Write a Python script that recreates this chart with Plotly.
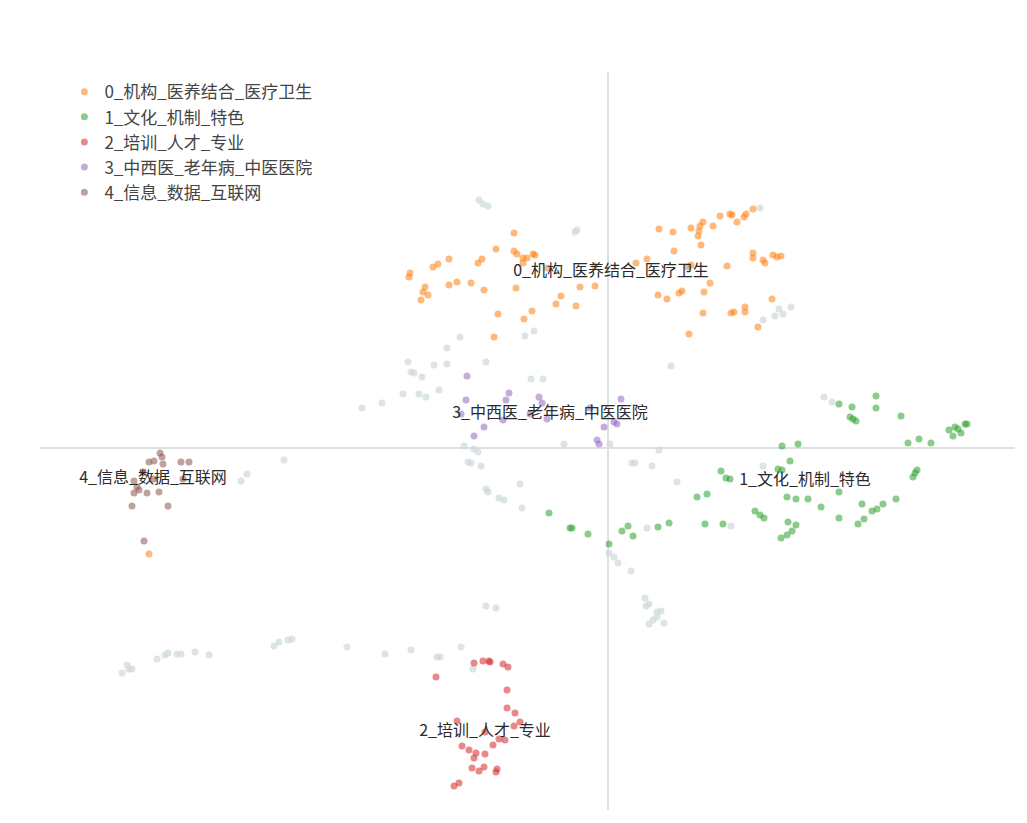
import plotly.graph_objects as go

# Topic names
topic_names = ["0_机构_医养结合_医疗卫生", "1_文化_机制_特色", "2_培训_人才_专业",
               "3_中西医_老年病_中医医院", "4_信息_数据_互联网"]
topic_colors = ["#ff7f0e", "#2ca02c", "#d62728", "#9467bd", "#8c564b"]

# 2D document embeddings (reduced units), per topic
t0_x = [-94, -198, -199, -175, -170, -159, -130, -126, -112, -94, -91, -85, -81, -85, -75, -73,
        -183, -185, -180, -187, -159, -151, -137, -124, -92, -61, -47, -52, -32, -28, -13, -13,
        -110, -84, -76, -114, 28, 39, 51, 65, 66, 83, 92, 95, 91, 90, 93, 105, 112, 122, 124,
        129, 136, 138, 145, 145, 145, 155, 157, 165, 169, 173, 119, 83, 80, 102, 74, 71, 50,
        59, 96, 164, 137, 137, 126, 123, 95, 81, 150, -459]
t0_y = [215, 175, 171, 181, 184, 189, 185, 189, 199, 197, 194, 190, 190, 185, 194, 193,
        161, 156, 153, 148, 163, 166, 165, 158, 160, 180, 152, 144, 142, 161, 162, 182,
        134, 129, 137, 111, 185, 189, 219, 216, 197, 220, 222, 226, 217, 212, 203, 222, 232,
        234, 233, 226, 231, 234, 239, 195, 190, 188, 185, 193, 191, 192, 182, 183, 181, 165,
        157, 155, 153, 149, 156, 149, 141, 136, 136, 135, 135, 114, 121, -106]

t1_x = [231, 268, 244, 268, 242, 245, 248, 293, 341, 347, 350, 353, 345, 357, 359, 300, 311,
        323, 174, 190, 182, 170, 174, 309, 307, 305, 113, 118, 122, 89, 99, 179, 188, 200,
        231, 213, 254, 288, 275, 269, 264, 256, 250, 231, 147, 152, 156, 97, 115, 180, 188,
        184, 179, 173, -59, -38, -36, -20, 1, 14, 20, 25, 50, 61]
t1_y = [44, 52, 41, 40, 31, 29, 27, 32, 18, 21, 19, 15, 12, 24, 24, 5, 9,
        5, 2, 4, -13, -21, -22, -22, -25, -29, -23, -30, -31, -49, -46, -49, -51, -51,
        -44, -59, -56, -51, -56, -61, -63, -71, -76, -70, -63, -67, -70, -76, -76, -74, -77,
        -83, -87, -90, -65, -80, -80, -86, -96, -83, -78, -88, -79, -75]

t2_x = [-134, -125, -119, -118, -105, -100, -172, -101, -101, -93, -151, -88, -94, -109,
        -103, -123, -115, -146, -139, -132, -134, -123, -136, -129, -124, -111, -112, -154, -149]
t2_y = [-215, -213, -213, -214, -216, -219, -229, -242, -260, -265, -273, -274, -278, -291,
        -292, -284, -297, -298, -302, -305, -310, -306, -320, -323, -319, -321, -324, -338, -335]

t3_x = [-141, -142, -99, -102, -69, -66, -18, 13, -147, -124, -134, -105, -78, -61, -4, 6, 9, -11, -9]
t3_y = [72, 48, 55, 48, 51, 45, 40, 49, 34, 21, 12, 28, 34, 29, 21, 26, 24, 8, 4]

t4_x = [-448, -446, -454, -459, -445, -427, -419, -465, -474, -471, -469, -474, -461, -449,
        -454, -425, -476, -440, -464]
t4_y = [-5, -9, -13, -14, -16, -14, -14, -24, -33, -39, -42, -45, -45, -44, -31, -31, -58, -58, -93]

other_x = [-129, -125, -120, -33, -31, -83, -74, -148, -161, 155, 167, 175, 171, 183, 152,
           -200, -197, -194, -186, -174, -161, -122, -205, -189, -182, -169, -226, -246, -77,
           -65, 63, -144, -134, -130, -140, -137, -127, -44, 2, 24, 27, 44, 51, 216, 224, 155,
           123, -324, -361, -367, -486, -481, -479, -476, -451, -443, -440, -431, -427, -413,
           -399, -334, -329, -320, -316, -261, -223, -197, -171, -168, -147, -135, -122, -120,
           -109, -104, -88, -86, 69, 39, 1, 6, 10, 23, 37, 38, 41, 49, 53, 49, 45, 41, 56,
           -122, -112]
other_y = [248, 244, 242, 216, 218, 112, 117, 111, 100, 128, 132, 134, 139, 141, 240,
           86, 76, 75, 71, 83, 84, 86, 54, 54, 51, 58, 45, 40, 69,
           69, 82, 2, -1, -4, -14, -15, -18, 4, 4, -15, -15, -18, -2, 51, 46, -18,
           -78, -12, -26, -33, -225, -217, -221, -221, -211, -207, -205, -206, -206, -204,
           -207, -198, -194, -192, -191, -199, -206, -202, -209, -209, -199, -221, -41, -44,
           -50, -52, -36, -60, -34, -80, -105, -109, -115, -123, -150, -158, -156, -164, -163,
           -169, -172, -176, -175, -158, -160]

# Topic label anchor positions (same units)
label_x = [3, 197, -123, -58, -455]
label_y = [176, -33, -284, 34, -31]

x_range = [-568, 407]
y_range = [-362, 376]

topics_x = [t0_x, t1_x, t2_x, t3_x, t4_x]
topics_y = [t0_y, t1_y, t2_y, t3_y, t4_y]

fig = go.Figure()

fig.add_trace(go.Scatter(
    x=other_x, y=other_y, mode="markers", name="other", showlegend=False,
    marker=dict(color="#CFD8DC", size=7, opacity=0.7), hoverinfo="skip"))

for name, color, xs, ys in zip(topic_names, topic_colors, topics_x, topics_y):
    fig.add_trace(go.Scatter(
        x=xs, y=ys, mode="markers", name=name,
        marker=dict(color=color, size=7, opacity=0.55)))

fig.add_trace(go.Scatter(
    x=label_x, y=label_y, mode="text", text=topic_names, showlegend=False,
    textposition="middle center",
    textfont=dict(size=16, color="#2a2a2a", family="Noto Sans CJK SC"), hoverinfo="skip"))

fig.add_shape(type="line", x0=0, x1=0, y0=y_range[0], y1=y_range[1],
              line=dict(color="#dde1e4", width=2), layer="below")
fig.add_shape(type="line", x0=x_range[0], x1=x_range[1], y0=0, y1=0,
              line=dict(color="#dde1e4", width=2), layer="below")

fig.update_layout(
    width=1027, height=823,
    margin=dict(l=40, r=12, t=72, b=13),
    paper_bgcolor="white", plot_bgcolor="white",
    font=dict(family="Noto Sans CJK SC", color="#444"),
    showlegend=True,
    legend=dict(x=0.025, y=0.997, xanchor="left", yanchor="top",
                font=dict(size=17, color="#444"), bgcolor="rgba(0,0,0,0)"),
    xaxis=dict(visible=False, range=x_range),
    yaxis=dict(visible=False, range=y_range),
)

fig.write_html("out.html", config={"displayModeBar": False},
               post_script="document.body.style.margin='0';")
